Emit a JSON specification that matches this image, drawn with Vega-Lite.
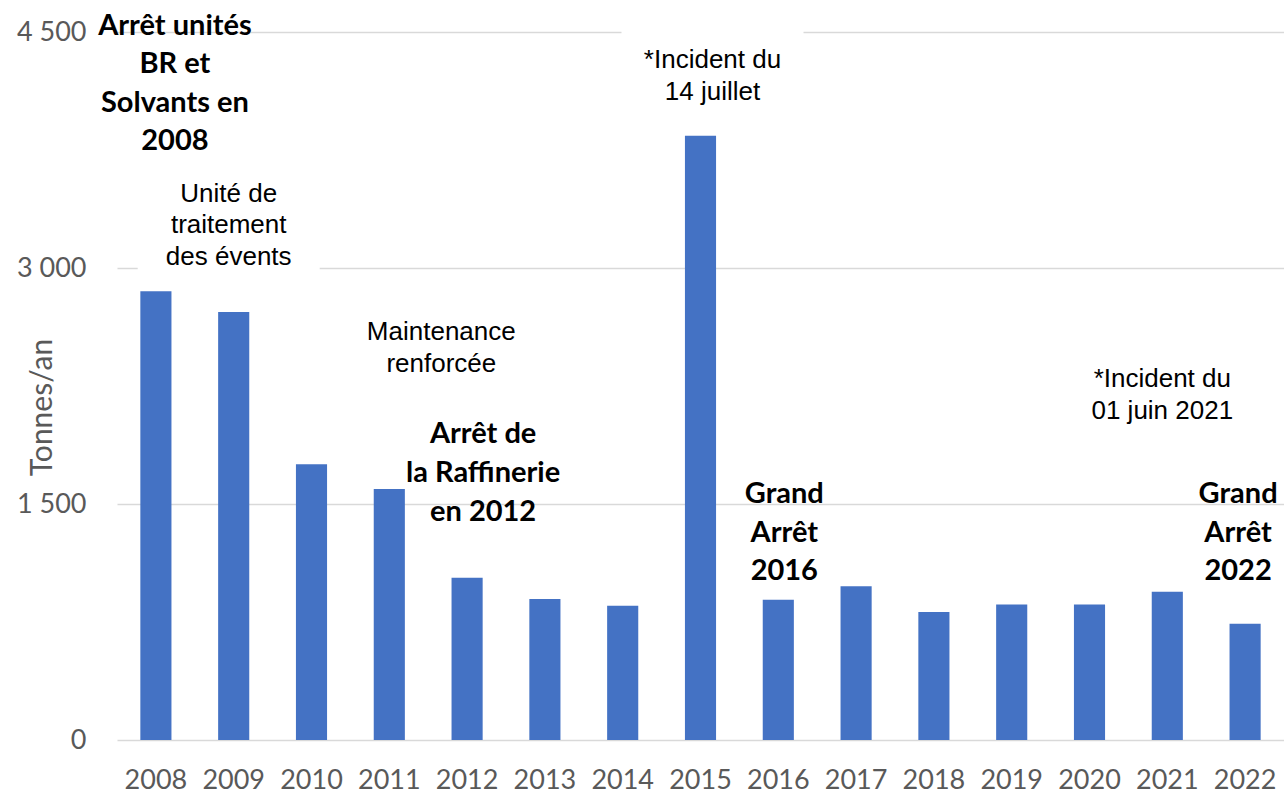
{
  "$schema": "https://vega.github.io/schema/vega-lite/v6.json",
  "autosize": {"type": "none"},
  "padding": {"left": 117, "top": 32, "right": 0, "bottom": 54},
  "width": 1167,
  "height": 708,
  "background": "white",
  "config": {"view": {"stroke": null}},
  "encoding": {
    "x": {
      "field": "year", "type": "ordinal",
      "scale": {"domain": ["2008","2009","2010","2011","2012","2013","2014","2015","2016","2017","2018","2019","2020","2021","2022"], "paddingInner": 0.6, "paddingOuter": 0.3},
      "axis": {"title": null, "domain": false, "ticks": false, "labelAngle": 0, "labelFont": "Lato", "labelFontSize": 27, "labelColor": "#595959", "labelBaseline": "alphabetic", "labelPadding": 48}
    }
  },
  "layer": [
    {
      "data": {"values": [
        {"year": "2008", "tonnes": 2853},
        {"year": "2009", "tonnes": 2721},
        {"year": "2010", "tonnes": 1752},
        {"year": "2011", "tonnes": 1595},
        {"year": "2012", "tonnes": 1032},
        {"year": "2013", "tonnes": 896},
        {"year": "2014", "tonnes": 854},
        {"year": "2015", "tonnes": 3841},
        {"year": "2016", "tonnes": 892},
        {"year": "2017", "tonnes": 978},
        {"year": "2018", "tonnes": 813},
        {"year": "2019", "tonnes": 862},
        {"year": "2020", "tonnes": 862},
        {"year": "2021", "tonnes": 943},
        {"year": "2022", "tonnes": 739}
      ]},
      "mark": {"type": "bar", "color": "#4472C4"},
      "encoding": {
        "y": {
          "field": "tonnes", "type": "quantitative",
          "scale": {"domain": [0, 4500], "nice": false},
          "axis": {
            "values": [0, 1500, 3000, 4500],
            "labelExpr": "replace(format(datum.value, ','), ',', ' ')",
            "domain": false, "ticks": false,
            "gridColor": "#d9d9d9", "gridWidth": 1.5,
            "labelFont": "Lato", "labelFontSize": 27, "labelColor": "#595959", "labelPadding": 31,
            "title": "Tonnes/an", "titleFont": "Lato", "titleFontSize": 30, "titleFontWeight": "normal", "titleColor": "#595959",
            "titleAngle": -90, "titleX": -75, "titleY": 375, "titleAlign": "center", "titleBaseline": "middle"
          }
        }
      }
    },
    {
      "data": {"values": [
        {"year": "2009", "lo": 2955, "hi": 3560}
      ]},
      "mark": {"type": "bar", "color": "white", "width": 182, "xOffset": -5},
      "encoding": {"y": {"field": "lo", "type": "quantitative"}, "y2": {"field": "hi"}}
    },
    {
      "data": {"values": [
        {"year": "2015", "lo": 4010, "hi": 4540}
      ]},
      "mark": {"type": "bar", "color": "white", "width": 182, "xOffset": 12},
      "encoding": {"y": {"field": "lo", "type": "quantitative"}, "y2": {"field": "hi"}}
    },
    {
      "data": {"values": [{"year": "2008", "value": 4481, "lines": ["Arrêt unités", "BR et", "Solvants en", "2008"]}]},
      "mark": {"type": "text", "font": "Lato", "fontSize": 29, "fontWeight": "bold", "color": "black", "align": "center", "baseline": "alphabetic", "lineHeight": 38.5, "dx": 19},
      "encoding": {"y": {"field": "value", "type": "quantitative"}, "text": {"field": "lines"}}
    },
    {
      "data": {"values": [{"year": "2009", "value": 3420, "lines": ["Unité de", "traitement", "des évents"]}]},
      "mark": {"type": "text", "font": "Liberation Sans", "fontSize": 26, "color": "black", "align": "center", "baseline": "alphabetic", "lineHeight": 31.5, "dx": -5},
      "encoding": {"y": {"field": "value", "type": "quantitative"}, "text": {"field": "lines"}}
    },
    {
      "data": {"values": [{"year": "2015", "value": 4271, "lines": ["*Incident du", "14 juillet"]}]},
      "mark": {"type": "text", "font": "Liberation Sans", "fontSize": 26, "color": "black", "align": "center", "baseline": "alphabetic", "lineHeight": 32, "dx": 12},
      "encoding": {"y": {"field": "value", "type": "quantitative"}, "text": {"field": "lines"}}
    },
    {
      "data": {"values": [{"year": "2011", "value": 2542, "lines": ["Maintenance", "renforcée"]}]},
      "mark": {"type": "text", "font": "Liberation Sans", "fontSize": 26, "color": "black", "align": "center", "baseline": "alphabetic", "lineHeight": 32, "dx": 52},
      "encoding": {"y": {"field": "value", "type": "quantitative"}, "text": {"field": "lines"}}
    },
    {
      "data": {"values": [{"year": "2012", "value": 1888, "lines": ["Arrêt de", "la Raffinerie", "en 2012"]}]},
      "mark": {"type": "text", "font": "Lato", "fontSize": 29, "fontWeight": "bold", "color": "black", "align": "center", "baseline": "alphabetic", "lineHeight": 39, "dx": 16},
      "encoding": {"y": {"field": "value", "type": "quantitative"}, "text": {"field": "lines"}}
    },
    {
      "data": {"values": [{"year": "2016", "value": 1506, "lines": ["Grand", "Arrêt", "2016"]}]},
      "mark": {"type": "text", "font": "Lato", "fontSize": 29, "fontWeight": "bold", "color": "black", "align": "center", "baseline": "alphabetic", "lineHeight": 38.5, "dx": 6},
      "encoding": {"y": {"field": "value", "type": "quantitative"}, "text": {"field": "lines"}}
    },
    {
      "data": {"values": [{"year": "2021", "value": 2244, "lines": ["*Incident du", "01 juin 2021"]}]},
      "mark": {"type": "text", "font": "Liberation Sans", "fontSize": 26, "color": "black", "align": "center", "baseline": "alphabetic", "lineHeight": 32.5, "dx": -5},
      "encoding": {"y": {"field": "value", "type": "quantitative"}, "text": {"field": "lines"}}
    },
    {
      "data": {"values": [{"year": "2022", "value": 1506, "lines": ["Grand", "Arrêt", "2022"]}]},
      "mark": {"type": "text", "font": "Lato", "fontSize": 29, "fontWeight": "bold", "color": "black", "align": "center", "baseline": "alphabetic", "lineHeight": 38.5, "dx": -7},
      "encoding": {"y": {"field": "value", "type": "quantitative"}, "text": {"field": "lines"}}
    }
  ]
}
